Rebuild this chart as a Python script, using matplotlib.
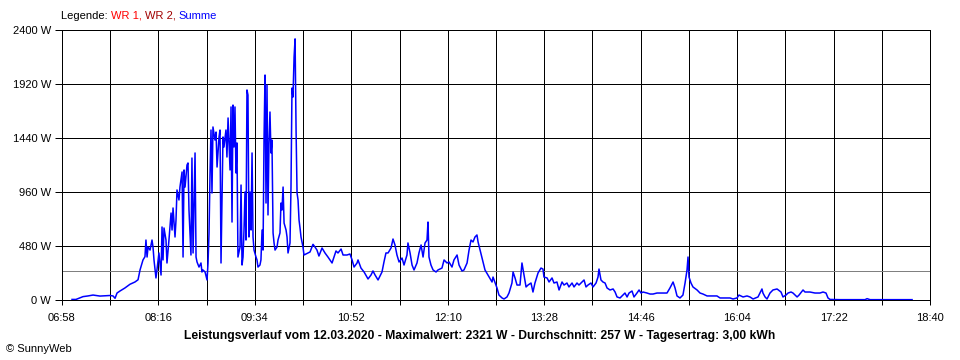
import matplotlib
matplotlib.use('Agg')
import matplotlib.pyplot as plt
import numpy as np

# Leistung "Summe" am 12.03.2020, Zeit in Minuten nach Mitternacht
zeit = [426.1, 429.3, 432.6, 435.0, 439.0, 443.1, 448.7, 452.8, 456.8, 459.3,
        460.9, 462.5, 464.9, 468.9, 473.0, 477.0, 479.5, 481.1, 483.5, 485.1,
        485.9, 486.8, 487.6, 489.2, 490.8, 491.6, 492.4, 494.0, 494.8, 496.4,
        498.1, 498.9, 499.7, 500.5, 502.1, 502.9, 504.5, 506.2, 507.0, 507.8,
        509.4, 510.2, 511.0, 512.6, 513.4, 515.1, 515.9, 516.7, 517.5, 519.1,
        519.9, 520.7, 522.3, 523.1, 524.0, 525.6, 526.4, 527.2, 528.8, 530.4,
        531.2, 532.0, 533.7, 535.3, 536.1, 536.9, 537.7, 538.5, 539.3, 540.1,
        541.7, 542.6, 543.4, 545.0, 545.8, 546.6, 548.2, 549.0, 550.6, 551.4,
        552.3, 553.9, 554.7, 555.5, 556.3, 557.1, 557.9, 558.7, 559.5, 560.3,
        562.0, 562.8, 563.6, 564.4, 565.2, 566.0, 566.8, 567.6, 568.4, 569.2,
        570.1, 570.9, 571.7, 572.5, 573.3, 574.9, 575.7, 576.5, 578.1, 578.9,
        579.8, 580.6, 581.4, 582.2, 583.0, 583.8, 584.6, 585.4, 586.2, 587.0,
        587.8, 588.7, 589.5, 590.3, 591.9, 592.7, 594.3, 595.1, 595.9, 596.8,
        597.6, 599.2, 600.0, 600.8, 602.4, 603.2, 604.0, 604.8, 605.7, 606.5,
        607.3, 608.1, 608.9, 609.7, 610.5, 611.3, 612.9, 613.7, 615.4, 617.0,
        618.6, 621.0, 622.6, 624.2, 625.8, 628.3, 630.7, 633.1, 636.4, 637.2,
        639.6, 641.2, 643.7, 645.3, 648.5, 650.9, 652.6, 654.2, 656.6, 657.4,
        659.8, 662.3, 665.5, 667.9, 669.5, 671.2, 673.6, 676.8, 678.4, 680.0,
        681.7, 684.1, 685.7, 687.3, 688.9, 690.6, 693.0, 694.6, 697.0, 697.8,
        699.5, 701.1, 702.7, 705.1, 706.7, 708.4, 710.0, 711.6, 713.2, 714.0,
        714.8, 716.4, 718.1, 720.5, 722.1, 725.3, 727.0, 729.4, 731.0, 733.4,
        735.0, 737.5, 739.1, 741.5, 743.1, 745.6, 747.2, 748.8, 750.4, 752.0,
        753.6, 754.5, 756.1, 758.5, 760.1, 762.5, 765.8, 766.6, 769.8, 771.4,
        773.9, 775.5, 777.9, 779.5, 781.9, 782.8, 784.4, 786.0, 788.4, 790.0,
        791.7, 793.3, 794.9, 797.3, 798.9, 800.5, 803.0, 805.4, 807.0, 807.8,
        810.3, 811.9, 814.3, 815.9, 818.3, 820.0, 822.4, 824.0, 826.4, 828.0,
        830.5, 832.1, 834.5, 836.1, 838.6, 840.2, 841.8, 843.4, 845.8, 847.5,
        849.9, 851.5, 852.3, 853.9, 855.5, 857.2, 858.8, 861.2, 863.7, 865.3,
        866.9, 869.3, 871.7, 873.3, 875.0, 876.6, 879.0, 880.6, 883.0, 884.7,
        886.3, 887.9, 891.1, 893.6, 896.0, 899.2, 901.6, 904.1, 907.3, 909.7,
        912.2, 913.8, 915.4, 917.8, 920.2, 921.9, 923.5, 924.3, 925.1, 926.7,
        928.3, 931.6, 934.0, 936.4, 939.7, 943.7, 947.7, 950.2, 954.2, 958.3,
        960.7, 963.9, 965.5, 968.8, 972.0, 974.4, 976.9, 980.9, 984.1, 984.9,
        986.6, 988.2, 990.6, 993.0, 996.3, 999.5, 1001.1, 1003.5, 1005.2, 1007.6,
        1009.2, 1012.5, 1014.1, 1017.3, 1018.9, 1022.9, 1027.0, 1031.0, 1033.5, 1035.9,
        1037.5, 1039.1, 1047.2, 1067.5, 1069.1, 1071.5, 1105.5]

leistung = [5, 5, 20, 30, 36, 44, 35, 38, 40, 36,
            15, 62, 80, 107, 140, 160, 180, 267, 356, 385,
            533, 382, 471, 444, 533, 471, 356, 196, 267, 418,
            222, 649, 356, 640, 533, 329, 533, 773, 622, 818,
            560, 711, 978, 889, 1004, 1138, 382, 1156, 1004, 1200,
            1218, 800, 400, 1262, 418, 1307, 382, 338, 293, 329,
            249, 267, 249, 178, 329, 596, 1111, 1511, 951, 1538,
            1422, 1493, 1182, 1449, 1511, 329, 1449, 1360, 1511, 1271,
            1618, 1156, 1716, 693, 1733, 1360, 1716, 1129, 1396, 382,
            471, 1022, 311, 382, 622, 960, 533, 1867, 1822, 560,
            960, 622, 1307, 560, 444, 382, 356, 293, 311, 356,
            622, 444, 1440, 2000, 862, 1911, 756, 1396, 1671, 1307,
            1422, 596, 507, 444, 471, 533, 596, 862, 800, 1004,
            684, 622, 560, 418, 507, 1004, 1884, 1804, 2160, 2321,
            1511, 951, 889, 711, 640, 560, 471, 400, 409, 418,
            427, 495, 471, 444, 391, 462, 418, 382, 329, 356,
            436, 418, 453, 400, 400, 409, 356, 293, 329, 356,
            284, 249, 187, 222, 258, 222, 178, 249, 338, 418,
            418, 462, 542, 489, 400, 338, 373, 311, 400, 507,
            418, 311, 267, 329, 418, 489, 382, 507, 533, 693,
            382, 311, 267, 249, 267, 284, 356, 329, 338, 293,
            356, 400, 311, 258, 267, 329, 444, 533, 516, 560,
            578, 516, 444, 338, 267, 222, 160, 204, 107, 44,
            18, 9, 27, 62, 151, 249, 196, 133, 133, 329,
            222, 116, 133, 151, 71, 151, 240, 284, 275, 204,
            196, 160, 196, 151, 160, 89, 160, 133, 151, 116,
            151, 116, 151, 133, 160, 178, 116, 133, 151, 116,
            151, 204, 275, 178, 160, 151, 107, 89, 98, 71,
            27, 18, 44, 62, 27, 62, 80, 27, 62, 89,
            62, 71, 62, 53, 53, 62, 62, 62, 62, 107,
            160, 107, 36, 18, 44, 151, 267, 382, 204, 151,
            116, 89, 62, 53, 36, 36, 36, 18, 18, 18,
            9, 18, 44, 27, 36, 27, 9, 27, 98, 62,
            27, 9, 62, 89, 98, 71, 27, 44, 62, 71,
            62, 27, 44, 89, 71, 71, 62, 62, 71, 62,
            18, 5, 3, 3, 12, 3, 3]

x_labels = ['06:58', '08:16', '09:34', '10:52', '12:10', '13:28', '14:46', '16:04', '17:22', '18:40']
y_werte = [0, 480, 960, 1440, 1920, 2400]

datum = '12.03.2020'
maximalwert = 2321
durchschnitt = 257
tagesertrag = '3,00'


def in_minuten(s):
    h, m = s.split(':')
    return int(h) * 60 + int(m)


plt.rcParams['font.family'] = ['Liberation Sans', 'DejaVu Sans']
plt.rcParams['font.size'] = 8

fig = plt.figure(figsize=(9.6, 3.6), dpi=100)
ax = fig.add_axes([62 / 960, 60 / 360, 868 / 960, 270 / 360])

start = in_minuten(x_labels[0])
ende = in_minuten(x_labels[-1])
schritt = (in_minuten(x_labels[1]) - start) / 2
gitter = np.arange(start, ende + 1, schritt)

ax.set_xlim(start, ende)
ax.set_ylim(y_werte[0], y_werte[-1])
ax.set_xticks(gitter)
ax.set_xticklabels([x_labels[i // 2] if i % 2 == 0 else '' for i in range(len(gitter))])
ax.set_yticks(y_werte)
ax.set_yticklabels(['%d W' % v for v in y_werte])
ax.tick_params(axis='x', length=3.6, width=0.72, pad=5.5, color='black')
ax.tick_params(axis='y', length=5, width=0.72, pad=3, color='black')
ax.grid(True, color='black', linewidth=0.72)
ax.set_axisbelow(True)
for s in ax.spines.values():
    s.set_linewidth(0.72)
    s.set_color('black')

ax.axhline(durchschnitt, color='#808080', linewidth=0.72, zorder=2)
ax.plot(zeit, leistung, color='#0000ff', linewidth=1.1, zorder=3)

# Legende oben links, mehrfarbig
teile = [('Legende: ', 'black'), ('WR 1, ', '#ff0000'), ('WR 2, ', '#a00000'), ('Summe', '#0000ff')]
t = fig.text(61 / 960, 1 - 16 / 360, teile[0][0], color=teile[0][1], va='center', ha='left')
for text, farbe in teile[1:]:
    t = ax.annotate(text, xycoords=t, xy=(1, 0), va='bottom', color=farbe,
                    annotation_clip=False)

titel = ('Leistungsverlauf vom %s - Maximalwert: %d W - Durchschnitt: %d W - Tagesertrag: %s kWh'
         % (datum, maximalwert, durchschnitt, tagesertrag))
fig.text(480 / 960, 1 - 336 / 360, titel, ha='center', va='center', fontweight='bold', fontsize=8.7)
fig.text(6 / 960, 1 - 349 / 360, '\u00a9 SunnyWeb', ha='left', va='center', fontsize=8)

fig.savefig('out.png', dpi=100)
